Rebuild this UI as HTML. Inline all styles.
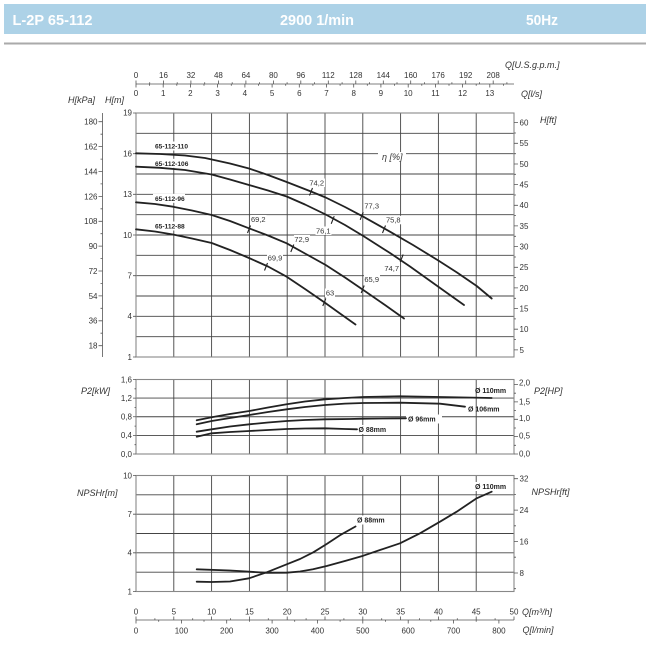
<!DOCTYPE html>
<html><head><meta charset="utf-8">
<style>
html,body{margin:0;padding:0;background:#fff;}
svg{display:block;}
text{font-family:"Liberation Sans",Arial,sans-serif;fill:#333;}
.t{font-size:8px;}
.ax{font-size:9px;font-style:italic;}
.e{font-size:7.5px;}
.b{font-size:6.6px;font-weight:bold;fill:#222;}
.d{font-size:7px;font-weight:bold;fill:#222;}
.g{stroke:#444;stroke-width:0.9;fill:none;}
.f{stroke:#888;stroke-width:1.1;fill:none;}
.c{stroke:#222;stroke-width:1.8;fill:none;stroke-linejoin:round;stroke-linecap:round;}
.k{stroke:#555;stroke-width:0.8;fill:none;}
.h{font-family:"Liberation Sans",Arial,sans-serif;font-weight:bold;font-size:15px;fill:#fff;}
</style></head>
<body>
<svg width="650" height="650" viewBox="0 0 650 650" xmlns="http://www.w3.org/2000/svg">
<!-- header -->
<rect x="4" y="4" width="642" height="30" fill="#add2e7"/>
<text class="h" x="12.5" y="25" textLength="80" lengthAdjust="spacingAndGlyphs">L-2P 65-112</text>
<text class="h" x="280" y="25" textLength="74" lengthAdjust="spacingAndGlyphs">2900 1/min</text>
<text class="h" x="526" y="25" textLength="32" lengthAdjust="spacingAndGlyphs">50Hz</text>
<line x1="4" y1="43.5" x2="646" y2="43.5" stroke="#aaa" stroke-width="2"/>

<!-- top axis -->
<text class="ax" x="505" y="68">Q[U.S.g.p.m.]</text>
<text class="ax" x="521" y="97">Q[l/s]</text>
<line x1="136" y1="84" x2="514" y2="84" class="k"/>
<g class="k">
<path d="M136 80.5V84M163.5 80.5V84M190.9 80.5V84M218.4 80.5V84M245.9 80.5V84M273.4 80.5V84M300.8 80.5V84M328.3 80.5V84M355.8 80.5V84M383.3 80.5V84M410.7 80.5V84M438.2 80.5V84M465.7 80.5V84M493.2 80.5V84"/>
<path d="M149.7 82.3V84M177.2 82.3V84M204.7 82.3V84M232.2 82.3V84M259.6 82.3V84M287.1 82.3V84M314.6 82.3V84M342.1 82.3V84M369.5 82.3V84M397 82.3V84M424.5 82.3V84M451.9 82.3V84M479.4 82.3V84M506.9 82.3V84"/>
<path d="M136 84V87.5M163.2 84V87.5M190.4 84V87.5M217.6 84V87.5M244.9 84V87.5M272.1 84V87.5M299.3 84V87.5M326.5 84V87.5M353.7 84V87.5M380.9 84V87.5M408.2 84V87.5M435.4 84V87.5M462.6 84V87.5M489.8 84V87.5"/>
<path d="M149.6 84V85.8M176.8 84V85.8M204 84V85.8M231.3 84V85.8M258.5 84V85.8M285.7 84V85.8M312.9 84V85.8M340.1 84V85.8M367.3 84V85.8M394.6 84V85.8M421.8 84V85.8M449 84V85.8M476.2 84V85.8M503.4 84V85.8"/>
</g>
<g class="t" text-anchor="middle">
<text x="136" y="78">0</text><text x="163.5" y="78">16</text><text x="190.9" y="78">32</text><text x="218.4" y="78">48</text><text x="245.9" y="78">64</text><text x="273.4" y="78">80</text><text x="300.8" y="78">96</text><text x="328.3" y="78">112</text><text x="355.8" y="78">128</text><text x="383.3" y="78">144</text><text x="410.7" y="78">160</text><text x="438.2" y="78">176</text><text x="465.7" y="78">192</text><text x="493.2" y="78">208</text>
<text x="136" y="96">0</text><text x="163.2" y="96">1</text><text x="190.4" y="96">2</text><text x="217.6" y="96">3</text><text x="244.9" y="96">4</text><text x="272.1" y="96">5</text><text x="299.3" y="96">6</text><text x="326.5" y="96">7</text><text x="353.7" y="96">8</text><text x="380.9" y="96">9</text><text x="408.2" y="96">10</text><text x="435.4" y="96">11</text><text x="462.6" y="96">12</text><text x="489.8" y="96">13</text>
</g>

<!-- main chart -->
<text class="ax" x="68" y="103">H[kPa]</text>
<text class="ax" x="105" y="103">H[m]</text>
<text class="ax" x="540" y="123">H[ft]</text>
<g class="g">
<path d="M173.8 113V357M211.6 113V357M249.4 113V357M287.2 113V357M325 113V357M362.8 113V357M400.6 113V357M438.4 113V357M476.2 113V357"/>
<path d="M136 133.3H514M136 153.7H514M136 174H514M136 194.3H514M136 214.7H514M136 235H514M136 255.3H514M136 275.7H514M136 296H514M136 316.3H514M136 336.7H514"/>
</g>
<rect x="136" y="113" width="378" height="244" class="f"/>
<!-- kPa axis -->
<g class="k">
<path d="M102.5 113V357"/>
<path d="M98.5 121.7H102.5M98.5 146.6H102.5M98.5 171.5H102.5M98.5 196.4H102.5M98.5 221.3H102.5M98.5 246.1H102.5M98.5 271H102.5M98.5 295.9H102.5M98.5 320.8H102.5M98.5 345.7H102.5"/>
<path d="M100.5 134.2H102.5M100.5 159.1H102.5M100.5 183.9H102.5M100.5 208.8H102.5M100.5 233.7H102.5M100.5 258.6H102.5M100.5 283.5H102.5M100.5 308.3H102.5M100.5 333.2H102.5"/>
<path d="M133 113H136M133 153.7H136M133 194.3H136M133 235H136M133 275.7H136M133 316.3H136M133 357H136"/>
<path d="M514 122.6H518M514 143.3H518M514 164H518M514 184.6H518M514 205.3H518M514 225.9H518M514 246.6H518M514 267.3H518M514 287.9H518M514 308.6H518M514 329.2H518M514 349.9H518"/>
<path d="M514 133H516M514 153.7H516M514 174.3H516M514 195H516M514 215.6H516M514 236.3H516M514 257H516M514 277.6H516M514 298.3H516M514 318.9H516M514 339.6H516"/>
</g>
<g class="t" text-anchor="end">
<text x="97.5" y="124.6">180</text><text x="97.5" y="149.5">162</text><text x="97.5" y="174.4">144</text><text x="97.5" y="199.3">126</text><text x="97.5" y="224.2">108</text><text x="97.5" y="249">90</text><text x="97.5" y="273.9">72</text><text x="97.5" y="298.8">54</text><text x="97.5" y="323.7">36</text><text x="97.5" y="348.6">18</text>
<text x="132" y="115.5">19</text><text x="132" y="156.6">16</text><text x="132" y="197.2">13</text><text x="132" y="237.9">10</text><text x="132" y="278.6">7</text><text x="132" y="319.2">4</text><text x="132" y="359.9">1</text>
</g>
<g class="t">
<text x="519.5" y="125.5">60</text><text x="519.5" y="146.2">55</text><text x="519.5" y="166.9">50</text><text x="519.5" y="187.5">45</text><text x="519.5" y="208.2">40</text><text x="519.5" y="228.8">35</text><text x="519.5" y="249.5">30</text><text x="519.5" y="270.2">25</text><text x="519.5" y="290.8">20</text><text x="519.5" y="311.5">15</text><text x="519.5" y="332.1">10</text><text x="519.5" y="352.8">5</text>
</g>

<!-- label backgrounds -->
<g fill="#fff">
<rect x="153" y="141.5" width="36" height="9"/>
<rect x="153" y="158.8" width="36" height="9"/>
<rect x="153" y="193.8" width="32" height="9"/>
<rect x="153" y="221.5" width="32" height="9"/>
<rect x="378" y="152" width="28" height="10"/>
<rect x="309" y="178.5" width="16" height="8.5"/>
<rect x="364" y="201.8" width="16" height="8.5"/>
<rect x="385.5" y="215.8" width="16" height="8.5"/>
<rect x="315.5" y="226.5" width="16" height="8.5"/>
<rect x="250.5" y="215" width="16" height="8.5"/>
<rect x="294" y="235" width="16" height="8.5"/>
<rect x="267" y="253.5" width="16" height="8.5"/>
<rect x="325" y="288.5" width="10" height="8.5"/>
<rect x="364" y="275" width="16" height="8.5"/>
<rect x="384" y="264" width="16" height="8.5"/>
</g>

<!-- H curves -->
<polyline class="c" points="136,153.3 160,154 185,155.5 205,158 230,163.5 249,168.5 268,175 286.7,182 311,191.5 325.7,197.5 345,207 363.3,216.7 390,231.7 413,245 438.3,260.5 457,272.5 476.7,286 491.7,298.5"/>
<polyline class="c" points="136,166.7 160,167.8 185,170 211.7,174.5 230,179.5 249,185 268,190.5 286.7,196.5 305,204.5 325.7,214.5 345,225 363.3,236 390,253 410,266.5 423.3,276 445,291.5 464,305"/>
<polyline class="c" points="136,202.3 155,204 173,206.7 192,210.5 211.7,215 230,221 249,228.3 268,235.5 286.7,243.3 305,253.5 325.7,265 345,277.5 363.3,290 385,305 404,318.5"/>
<polyline class="c" points="136,229.3 155,231.5 173,234.5 192,238.5 211.7,243 230,250 249,258 268,266.5 286.7,276.7 305,289 325.7,303.3 340,313.5 355.5,324.5"/>

<!-- efficiency marks -->
<g stroke="#222" stroke-width="1.1">
<path d="M309.5 195.5L312.5 188"/>
<path d="M360.2 219.8L363.2 212.2"/>
<path d="M382.5 233L385.5 225.5"/>
<path d="M331.2 223.8L334.2 216.2"/>
<path d="M400.2 262L403.2 254.5"/>
<path d="M247.5 233L250.5 225.5"/>
<path d="M290.8 252L293.8 244.5"/>
<path d="M361.2 293L364.2 285.5"/>
<path d="M264.5 270.5L267.5 263"/>
<path d="M322.8 306L325.8 298.5"/>
</g>

<!-- labels -->
<text class="b" x="155" y="148.5">65-112-110</text>
<text class="b" x="155" y="165.8">65-112-106</text>
<text class="b" x="155" y="200.8">65-112-96</text>
<text class="b" x="155" y="228.5">65-112-88</text>
<text class="ax" x="382" y="160" font-size="8.5">η [%]</text>
<g class="e" text-anchor="middle">
<text x="316.7" y="185.4">74,2</text>
<text x="371.7" y="208.7">77,3</text>
<text x="393.3" y="222.7">75,8</text>
<text x="323.3" y="233.4">76,1</text>
<text x="258.3" y="222">69,2</text>
<text x="301.7" y="242">72,9</text>
<text x="275" y="260.4">69,9</text>
<text x="330" y="295.4">63</text>
<text x="371.7" y="282">65,9</text>
<text x="391.7" y="271">74,7</text>
</g>

<!-- P2 chart -->
<text class="ax" x="81" y="394">P2[kW]</text>
<text class="ax" x="534" y="394">P2[HP]</text>
<g class="g">
<path d="M173.8 379.5V454M211.6 379.5V454M249.4 379.5V454M287.2 379.5V454M325 379.5V454M362.8 379.5V454M400.6 379.5V454M438.4 379.5V454M476.2 379.5V454"/>
<path d="M136 398.1H514M136 416.75H514M136 435.4H514"/>
</g>
<rect x="136" y="379.5" width="378" height="74.5" class="f"/>
<g class="k">
<path d="M133 379.5H136M133 398.1H136M133 416.75H136M133 435.4H136M133 454H136"/>
<path d="M134.5 388.8H136M134.5 407.4H136M134.5 426.1H136M134.5 444.7H136"/>
<path d="M514 384.6H518M514 401.9H518M514 419.3H518M514 436.6H518M514 454H518"/>
<path d="M514 393.2H516M514 410.6H516M514 428H516M514 445.3H516"/>
</g>
<g class="t" text-anchor="end">
<text x="132" y="382.3">1,6</text><text x="132" y="400.9">1,2</text><text x="132" y="419.5">0,8</text><text x="132" y="438.2">0,4</text><text x="132" y="456.8">0,0</text>
</g>
<g class="t">
<text x="519" y="385.5">2,0</text><text x="519" y="404.6">1,5</text><text x="519" y="420.8">1,0</text><text x="519" y="438.6">0,5</text><text x="519" y="456.5">0,0</text>
</g>
<g fill="#fff">
<rect x="406" y="414.5" width="36" height="9"/>
<rect x="357.5" y="425" width="35" height="9"/>
</g>
<polyline class="c" points="196.7,420.3 211.7,417.3 230,414 249.3,411 268,407.5 286.7,404.3 305,401.5 325,399.3 345,398 363.3,397 400,396.3 440,397 491.7,398"/>
<polyline class="c" points="196.7,424.3 211.7,421 230,418 249.3,415 268,412 286.7,409.3 305,407 325,405 345,403.6 363.3,403 400,402.7 440,403.7 465,406.7"/>
<polyline class="c" points="196.7,431.7 211.7,429.3 230,426.5 249.3,424.3 268,422.5 286.7,421 305,420 325,419.3 350,419 363.3,418.7 406,418.3"/>
<polyline class="c" points="196.7,436.7 211.7,433.3 230,432 249.3,431 268,430 286.7,429 305,428.5 325,428.3 345,429 357,429.3"/>
<text class="d" x="475" y="393">Ø 110mm</text>
<text class="d" x="468" y="411.5">Ø 106mm</text>
<text class="d" x="408" y="421.5">Ø 96mm</text>
<text class="d" x="358.5" y="431.8">Ø 88mm</text>

<!-- NPSH chart -->
<text class="ax" x="77" y="496">NPSHr[m]</text>
<text class="ax" x="531.5" y="495">NPSHr[ft]</text>
<g class="g">
<path d="M173.8 475.5V591.5M211.6 475.5V591.5M249.4 475.5V591.5M287.2 475.5V591.5M325 475.5V591.5M362.8 475.5V591.5M400.6 475.5V591.5M438.4 475.5V591.5M476.2 475.5V591.5"/>
<path d="M136 494.8H514M136 514.2H514M136 533.5H514M136 552.8H514M136 572.2H514"/>
</g>
<rect x="136" y="475.5" width="378" height="116" class="f"/>
<g class="k">
<path d="M133 475.5H136M133 514.2H136M133 552.8H136M133 591.5H136"/>
<path d="M514 478.7H518M514 510.1H518M514 541.5H518M514 573H518"/>
<path d="M514 494.4H516M514 525.8H516M514 557.2H516M514 588.7H516"/>
</g>
<g class="t" text-anchor="end">
<text x="132" y="478.3">10</text><text x="132" y="517">7</text><text x="132" y="555.6">4</text><text x="132" y="594.3">1</text>
</g>
<g class="t">
<text x="519.5" y="481.5">32</text><text x="519.5" y="512.9">24</text><text x="519.5" y="544.3">16</text><text x="519.5" y="575.8">8</text>
</g>
<g fill="#fff">
<rect x="355.5" y="515.5" width="37" height="9"/>
<rect x="473.5" y="482" width="40" height="9"/>
</g>
<polyline class="c" points="196.7,581.7 211.7,582 230,581.5 249,578.3 266.7,572.3 286.7,564.3 300,559 313.3,552.3 326.7,544 340,535.2 355.5,526.5"/>
<polyline class="c" points="196.7,569.3 230,570.5 249,571.7 266.7,572.8 286.7,572.7 300,571.5 313,569.3 326.7,566 346.7,560.5 363.3,555.7 380,550 400,543.3 420,533.3 440,521.7 456.7,511.7 476.7,498.3 491.7,491.7"/>
<text class="d" x="357" y="522.5">Ø 88mm</text>
<text class="d" x="475" y="489.2">Ø 110mm</text>

<!-- bottom axis -->
<line x1="136" y1="620" x2="514" y2="620" class="k"/>
<g class="k">
<path d="M136 616.5V620M173.8 616.5V620M211.6 616.5V620M249.4 616.5V620M287.2 616.5V620M325 616.5V620M362.8 616.5V620M400.6 616.5V620M438.4 616.5V620M476.2 616.5V620M514 616.5V620"/>
<path d="M154.9 618.2V620M192.7 618.2V620M230.5 618.2V620M268.3 618.2V620M306.1 618.2V620M343.9 618.2V620M381.7 618.2V620M419.5 618.2V620M457.3 618.2V620M495.1 618.2V620"/>
<path d="M136 620V623.5M181.4 620V623.5M226.7 620V623.5M272.1 620V623.5M317.4 620V623.5M362.8 620V623.5M408.2 620V623.5M453.5 620V623.5M498.9 620V623.5"/>
<path d="M158.7 620V621.8M204 620V621.8M249.4 620V621.8M294.7 620V621.8M340.1 620V621.8M385.5 620V621.8M430.8 620V621.8M476.2 620V621.8"/>
</g>
<g class="t" text-anchor="middle">
<text x="136" y="614.5">0</text><text x="173.8" y="614.5">5</text><text x="211.6" y="614.5">10</text><text x="249.4" y="614.5">15</text><text x="287.2" y="614.5">20</text><text x="325" y="614.5">25</text><text x="362.8" y="614.5">30</text><text x="400.6" y="614.5">35</text><text x="438.4" y="614.5">40</text><text x="476.2" y="614.5">45</text><text x="514" y="614.5">50</text>
<text x="136" y="633.5">0</text><text x="181.4" y="633.5">100</text><text x="226.7" y="633.5">200</text><text x="272.1" y="633.5">300</text><text x="317.4" y="633.5">400</text><text x="362.8" y="633.5">500</text><text x="408.2" y="633.5">600</text><text x="453.5" y="633.5">700</text><text x="498.9" y="633.5">800</text>
</g>
<text class="ax" x="522" y="615">Q[m³/h]</text>
<text class="ax" x="522.5" y="633">Q[l/min]</text>
</svg>
</body></html>
